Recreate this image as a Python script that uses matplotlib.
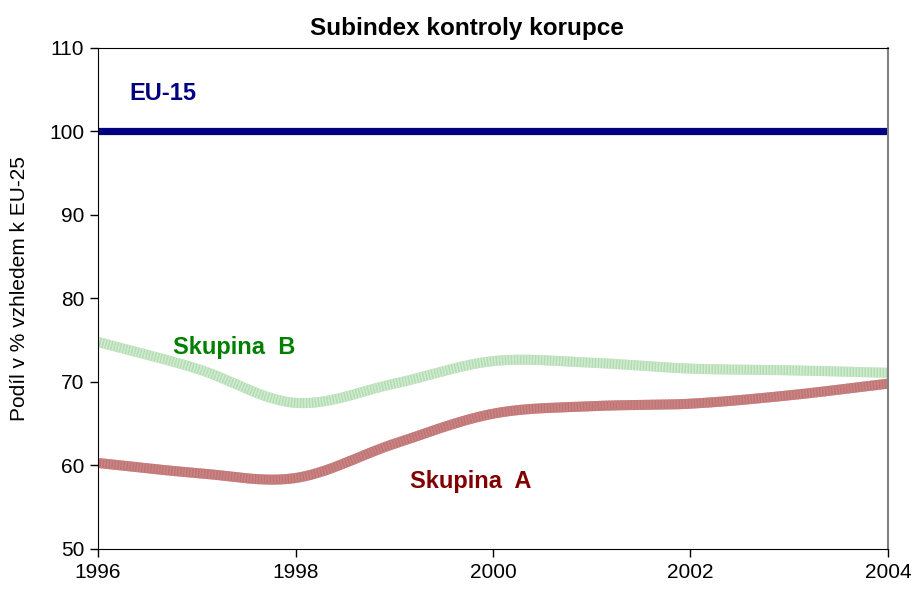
import numpy as np
import matplotlib
matplotlib.use('Agg')
from matplotlib import pyplot as plt

plt.rcParams['font.family'] = ['Liberation Sans', 'DejaVu Sans']

years = [1996, 1997, 1998, 1999, 2000, 2001, 2002, 2003, 2004]
eu15 = [100, 100, 100, 100, 100, 100, 100, 100, 100]
skupina_b = [74.8, 71.6, 67.5, 69.8, 72.5, 72.3, 71.6, 71.4, 71.1]
skupina_a = [60.3, 59.1, 58.5, 62.6, 66.2, 67.1, 67.4, 68.4, 69.8]


def smooth(x, y, n=30):
    # Catmull-Rom spline, similar to Excel "smoothed line"
    x = np.asarray(x, float)
    y = np.asarray(y, float)
    px = np.concatenate([[2 * x[0] - x[1]], x, [2 * x[-1] - x[-2]]])
    py = np.concatenate([[2 * y[0] - y[1]], y, [2 * y[-1] - y[-2]]])
    xs, ys = [], []
    t = np.linspace(0, 1, n, endpoint=False)
    for i in range(1, len(px) - 2):
        for p, out in ((px, xs), (py, ys)):
            p0, p1, p2, p3 = p[i - 1], p[i], p[i + 1], p[i + 2]
            out.append(0.5 * (2 * p1 + (-p0 + p2) * t
                              + (2 * p0 - 5 * p1 + 4 * p2 - p3) * t ** 2
                              + (-p0 + 3 * p1 - 3 * p2 + p3) * t ** 3))
    xs.append([x[-1]])
    ys.append([y[-1]])
    return np.concatenate(xs), np.concatenate(ys)


fig = plt.figure(figsize=(9.16, 5.91), dpi=100)
ax = fig.add_axes([0.107, 0.0711, 0.8624, 0.8477])

ax.plot(years, eu15, color='#000080', lw=5.2, solid_capstyle='butt')

bx, by = smooth(years, skupina_b)
ax.plot(bx, by, color='#b2dcb2', lw=7.2, solid_capstyle='butt')
ax.plot(bx, by, color='#d2ecd2', lw=7.2, dashes=(0.15, 0.15), dash_capstyle='butt')

ax_, ay = smooth(years, skupina_a)
ax.plot(ax_, ay, color='#c07474', lw=7.2, solid_capstyle='butt')
ax.plot(ax_, ay, color='#c98484', lw=7.2, dashes=(0.15, 0.15), dash_capstyle='butt')

ax.set_xlim(1996, 2004)
ax.set_ylim(50, 110)
ax.set_xticks([1996, 1998, 2000, 2002, 2004])
ax.set_yticks(range(50, 111, 10))
ax.tick_params(labelsize=15, length=6, width=1, direction='out', pad=4)
for s in ['left', 'bottom', 'top']:
    ax.spines[s].set_color('black')
ax.spines['right'].set_color('#808080')
ax.spines['right'].set_linewidth(1.5)

ax.set_ylabel('Podíl v % vzhledem k EU-25', fontsize=15, labelpad=8)
ax.yaxis.set_label_coords(-0.087, 0.52)
fig.text(0.51, 0.952, 'Subindex kontroly korupce', ha='center', va='center',
         fontsize=17.5, fontweight='bold')

ax.text(1996.32, 104.5, 'EU-15', color='#000080', fontsize=17, fontweight='bold', va='center')
ax.text(1996.76, 74.1, 'Skupina  B', color='#008000', fontsize=17, fontweight='bold', va='center')
ax.text(1999.16, 58.1, 'Skupina  A', color='#800000', fontsize=17, fontweight='bold', va='center')

fig.savefig('out.png', dpi=100)
